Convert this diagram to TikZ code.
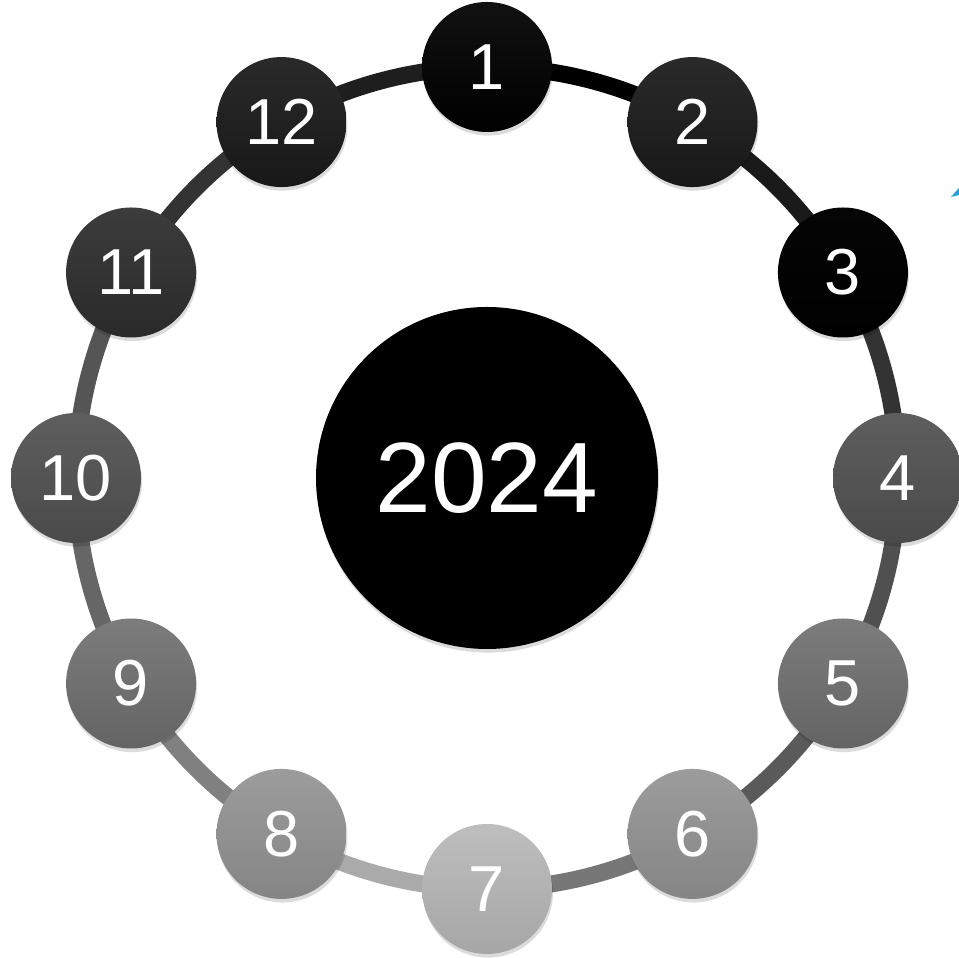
\documentclass[tikz,border=0pt]{standalone}
\usepackage{fontspec}
\setmainfont{Liberation Sans}
\usetikzlibrary{shadows,calc}
\definecolor{ringblue}{HTML}{1BA1E2}
\tikzset{
  month/.style={circle, minimum size=65pt, inner sep=0pt, text=white,
    font=\fontsize{32.5}{39}\selectfont,
    drop shadow={shadow xshift=0.5pt, shadow yshift=-1.8pt, opacity=0.14, fill=black}},
  yearnode/.style={circle, minimum size=171pt, inner sep=0pt, fill=black, text=white,
    font=\fontsize{50}{60}\selectfont,
    drop shadow={shadow xshift=0.5pt, shadow yshift=-1.8pt, opacity=0.14, fill=black}},
  seg/.style={line width=8.5pt}
}
\begin{document}
\begin{tikzpicture}[x=0.5pt,y=0.5pt]
\useasboundingbox (0,0) rectangle (959,958);
\coordinate (c) at (487,480);
% month positions
\foreach \k in {1,...,12}{
  \coordinate (p\k) at ($(c)+({90-30*(\k-1)}:411)$);
}
% ring segments
\foreach \k/\n/\col in {1/2/000000, 2/3/1A1A1A, 3/4/333333, 4/5/505050, 5/6/5A5A5A, 6/7/777777,
                        7/8/AAAAAA, 8/9/808080, 9/10/666666, 10/11/555555, 11/12/333333, 12/1/1E1E1E}{
  \definecolor{segcol}{HTML}{\col}
  \draw[seg, draw=segcol] (p\k) arc[start angle={90-30*(\k-1)}, end angle={60-30*(\k-1)}, radius=205.5pt];
}
% month nodes
\foreach \k/\tc/\bc in {1/111111/000000, 2/2A2A2A/181818, 3/050505/000000, 4/5E5E5E/4A4A4A,
                        5/7C7C7C/646464, 6/9C9C9C/858585, 7/BEBEBE/A6A6A6, 8/9C9C9C/858585,
                        9/7C7C7C/646464, 10/5E5E5E/4A4A4A, 11/3C3C3C/2A2A2A, 12/2A2A2A/181818}{
  \definecolor{topc}{HTML}{\tc}
  \definecolor{botc}{HTML}{\bc}
  \node[month, top color=topc, bottom color=botc] (m\k) at (p\k) {\k};
}
\node[yearnode] (year) at (c) {2024};
% cut-off blue fragment at right edge
\fill[ringblue] (951,761) -- (959,770) -- (959,763) -- cycle;
\end{tikzpicture}
\end{document}
